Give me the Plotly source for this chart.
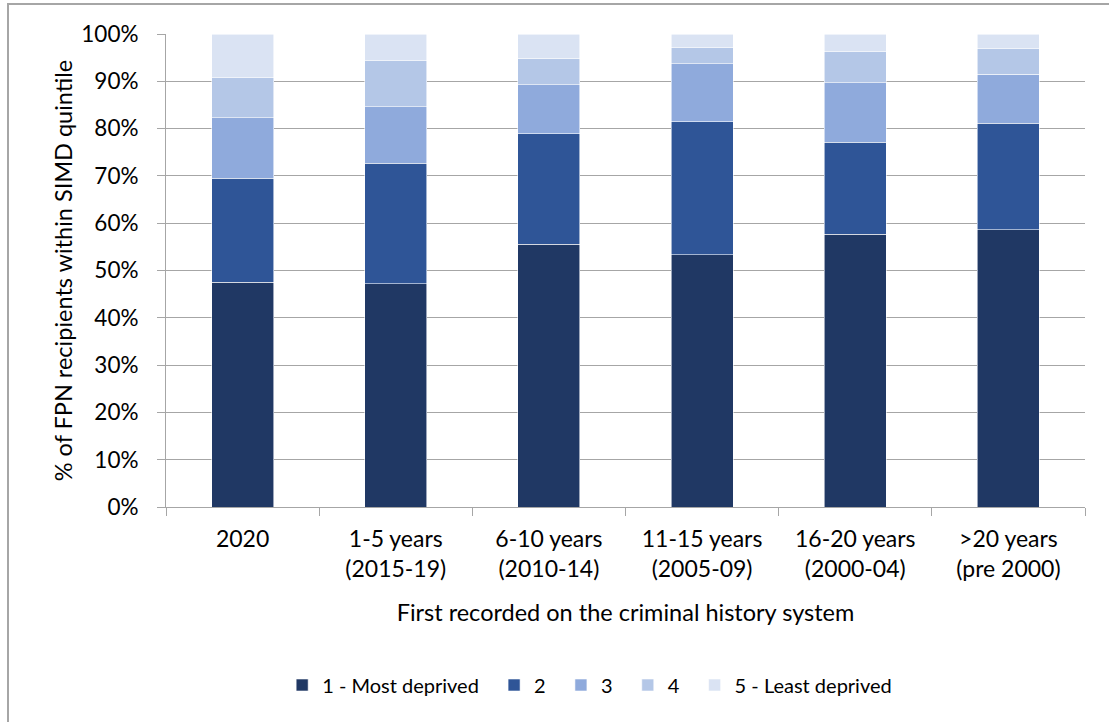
import plotly.graph_objects as go

categories = ["2020", "1-5 years<br>(2015-19)", "6-10 years<br>(2010-14)",
              "11-15 years<br>(2005-09)", "16-20 years<br>(2000-04)", ">20 years<br>(pre 2000)"]
q1 = [47.5, 47.2, 55.6, 53.3, 57.7, 58.6]
q2 = [22.0, 25.5, 23.3, 28.1, 19.4, 22.5]
q3 = [12.8, 11.9, 10.4, 12.3, 12.6, 10.4]
q4 = [8.5, 9.7, 5.6, 3.4, 6.6, 5.4]
q5 = [9.2, 5.7, 5.1, 2.9, 3.7, 3.1]
series_names = ["1 - Most deprived", "2", "3", "4", "5 - Least deprived"]
colors = ["#203864", "#2F5597", "#8FAADC", "#B4C7E7", "#DAE3F3"]

FONT = "Lato, Open Sans, sans-serif"
PAD = "\u00a0\u00a0"

fig = go.Figure()
for i, (name, vals, col) in enumerate(zip(series_names, [q1, q2, q3, q4, q5], colors)):
    fig.add_trace(go.Bar(
        x=categories, y=[v / 100 for v in vals],
        name=name + (PAD if i < len(series_names) - 1 else ""),
        marker=dict(color=col, line=dict(color="rgba(255,255,255,0.7)", width=0.8)),
    ))

W, H = 1109, 722
L, R, T, B = 166, 24, 34, 215
pw, ph = W - L - R, H - T - B


def px_x(x):
    return (x - L) / pw


def px_y(y):
    return (H - B - y) / ph


GREY = "#A6A6A6"

fig.update_layout(
    width=W, height=H,
    barmode="stack", bargap=0.595,
    margin=dict(l=L, r=R, t=T, b=B),
    paper_bgcolor="white", plot_bgcolor="white",
    font=dict(family=FONT, size=20, color="#000000"),
    legend=dict(orientation="h", x=0.461, xanchor="center", y=px_y(685), yanchor="middle",
                font=dict(size=20), itemwidth=30, traceorder="normal"),
    xaxis=dict(
        title=dict(text="First recorded on the criminal history system", standoff=24,
                   font=dict(size=23.5)),
        showline=True, linecolor=GREY, linewidth=1,
        ticks="outside", tickson="boundaries", ticklen=8, tickcolor=GREY,
        tickfont=dict(size=23), ticklabelstandoff=11,
    ),
    yaxis=dict(
        title=dict(text="% of FPN recipients within SIMD quintile", standoff=2,
                   font=dict(size=23.5)),
        range=[0, 1], tickformat=".0%", dtick=0.1,
        showline=True, linecolor=GREY, linewidth=1,
        ticks="outside", ticklen=8, tickcolor=GREY,
        showgrid=True, gridcolor=GREY, gridwidth=1.2,
        zeroline=False, tickfont=dict(size=22.5), ticklabelstandoff=14,
    ),
    shapes=[
        # chart frame: top edge and left edge as thin filled strips
        dict(type="rect", xref="paper", yref="paper",
             x0=px_x(7), x1=px_x(W), y0=px_y(5), y1=px_y(3),
             fillcolor=GREY, line=dict(width=0), layer="above"),
        dict(type="rect", xref="paper", yref="paper",
             x0=px_x(7), x1=px_x(9), y0=px_y(H), y1=px_y(3),
             fillcolor=GREY, line=dict(width=0), layer="above"),
    ],
)

fig.write_html("out.html", config={"displayModeBar": False},
               post_script="document.body.style.margin='0';")
